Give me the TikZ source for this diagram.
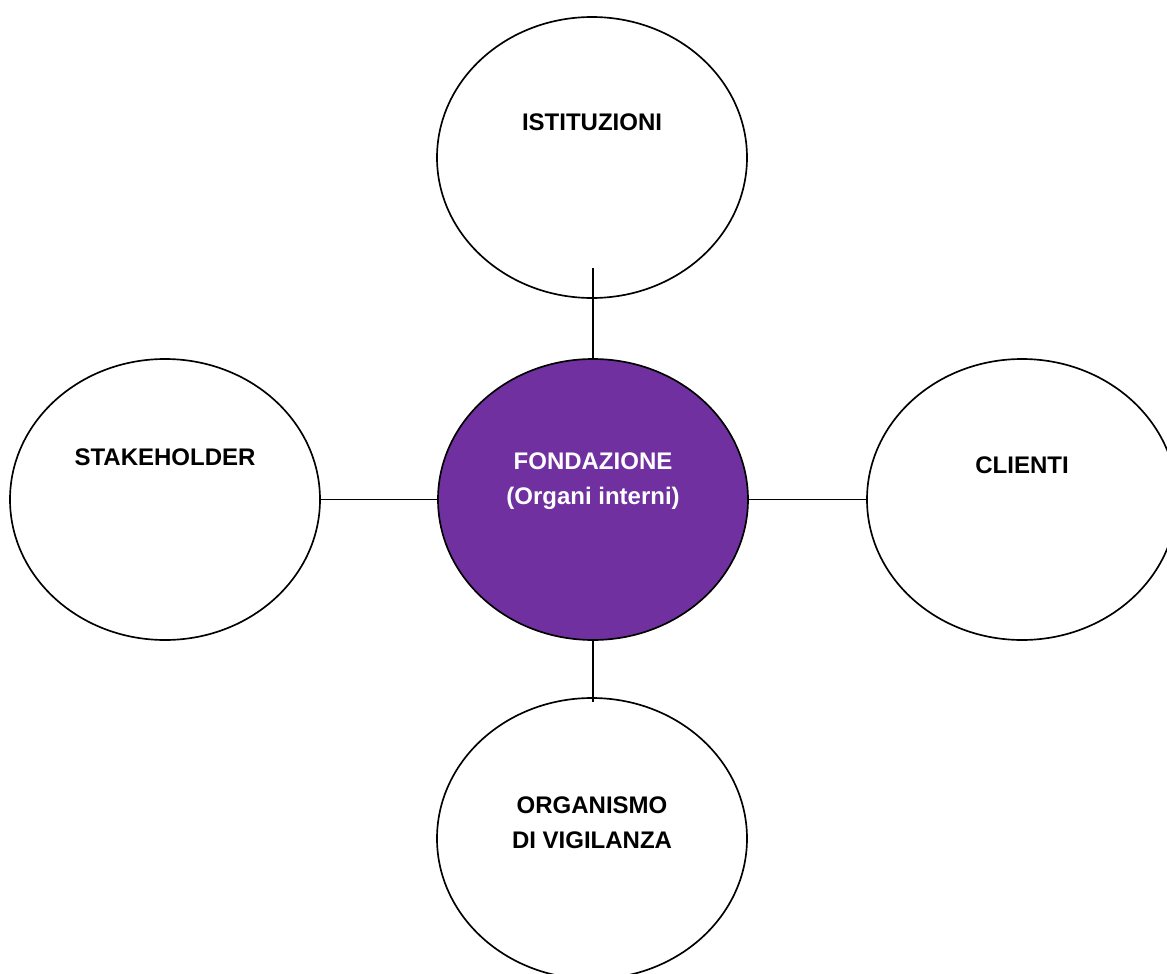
\documentclass[tikz,border=0pt]{standalone}
\usepackage{fontspec}
\setmainfont{Liberation Sans}
\usetikzlibrary{shapes.geometric}
\definecolor{fondpurple}{HTML}{7030A0}
\begin{document}
\begin{tikzpicture}[x=0.75pt,y=-0.75pt,
  bubble/.style={draw=black,line width=1.25pt,ellipse,inner sep=0pt,
    minimum width=232.5pt,minimum height=210.75pt,fill=white},
  lbl/.style={font=\fontsize{18}{26}\selectfont\bfseries,align=center,inner sep=0pt},
  link/.style={draw=black,line width=1.25pt}]
\useasboundingbox (0,0) rectangle (1167,974);
\node[bubble] (ist) at (592,157.5) {};
\node[bubble] (stk) at (165,499.5) {};
\node[bubble] (cli) at (1022,499.5) {};
\node[bubble] (org) at (592,838.5) {};
\node[bubble,fill=fondpurple] (fond) at (593,499.5) {};
\node[lbl] (istt) at (592,122) {ISTITUZIONI};
\node[lbl] (stkt) at (165,457) {STAKEHOLDER};
\node[lbl] (clit) at (1022,465) {CLIENTI};
\node[lbl] (orgt) at (592,822.5) {ORGANISMO\\DI VIGILANZA};
\node[lbl,text=white] (fondt) at (593,481) {FONDAZIONE\\(Organi interni)};
\coordinate (istin) at (593,268);
\coordinate (orgin) at (593,702);
\draw[link] (istin) -- (fond.north);
\draw[link] (fond.south) -- (orgin);
\draw[link] (stk.east) -- (fond.west);
\draw[link] (fond.east) -- (cli.west);
\end{tikzpicture}
\end{document}
